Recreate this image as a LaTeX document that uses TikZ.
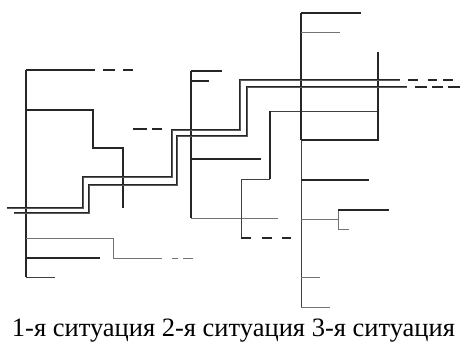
\documentclass[tikz,border=0pt]{standalone}
\usepackage{fontspec}
\setmainfont{Liberation Serif}
\usepackage{tikz}
\tikzset{heavy/.style={line width=1.7pt, black!85},
         light/.style={line width=0.9pt, black!75},
         pale/.style={line width=0.8pt, black!55},
         track/.style={line width=0.8pt, draw=black!85, double=black!65, double distance=0.7pt}}

\begin{document}
\begin{tikzpicture}[x=1pt, y=-1pt, line cap=butt, line join=miter]
\useasboundingbox (0,0) rectangle (460,342);

% situation 1
\draw[heavy] (26,70)--(26,277);
\draw[heavy] (26,70)--(95,70);
\draw[heavy] (103,70)--(115,70) (123,70)--(133,70);
\draw[heavy] (26,110)--(93,110)--(93,148)--(123,148)--(123,208);
\draw[heavy] (133,129)--(147,129) (152,129)--(162,129);
\draw[pale] (26,238)--(113,238)--(113,258)--(162,258);
\draw[pale] (172,258)--(178,258) (183,258)--(193,258);
\draw[heavy] (26,258)--(100,258);
\draw[light] (26,277)--(55,277);

% situation 2
\draw[heavy] (191,71)--(191,218);
\draw[heavy] (191,71)--(222,71);
\draw[heavy] (191,81)--(209,81);
\draw[heavy] (191,159)--(261,159);
\draw[pale] (191,218)--(278,218);
\draw[light] (378,111)--(270,111);
\draw[heavy] (270,111)--(270,179);
\draw[light] (270,179)--(241,179)--(241,238);
\draw[heavy] (241,238)--(251,238) (262,238)--(272,238) (282,238)--(291,238);

% situation 3
\draw[heavy] (301,13)--(301,140);
\draw[light] (301,140)--(301,307);
\draw[heavy] (301,13)--(361,13);
\draw[pale] (301,32)--(340,32);
\draw[heavy] (378,52)--(378,140)--(301,140);
\draw[heavy] (301,180)--(369,180);
\draw[pale] (301,219)--(338,219);
\draw[pale] (338,210)--(338,229)--(349,229);
\draw[heavy] (338,210)--(389,210);
\draw[pale] (301,277)--(320,277);
\draw[pale] (301,307)--(330,307);

% the two moving lines
\draw[track] (7,208)--(83,208)--(83,177)--(172,177)--(172,130)--(240,130)--(240,80)--(400,80);
\draw[heavy] (408,80)--(418,80) (428,80)--(437,80) (443,80)--(453,80);
\draw[track] (14,213)--(89,213)--(89,185)--(177,185)--(177,136)--(247,136)--(247,87)--(407,87);
\draw[heavy] (415,87)--(427,87) (432,87)--(443,87) (448,87)--(460,87);

\node[anchor=base, inner sep=0pt, font=\fontsize{26.5}{26.5}\selectfont] (caption) at (233.5,336)
  {1-я ситуация 2-я ситуация 3-я ситуация};

\end{tikzpicture}
\end{document}
